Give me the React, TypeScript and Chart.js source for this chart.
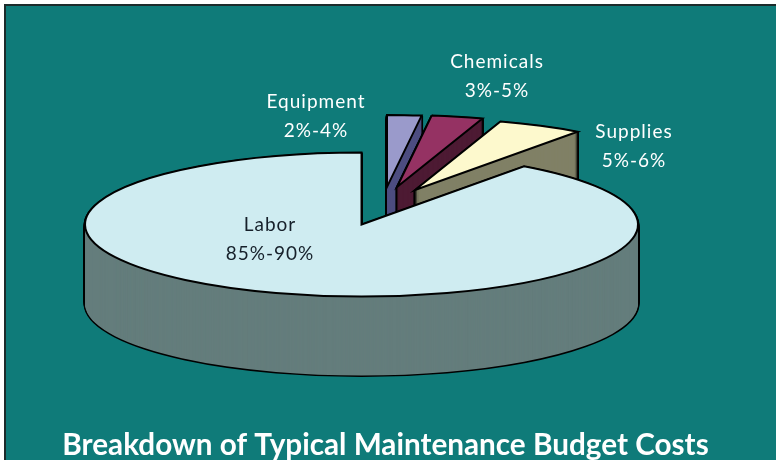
import React, { useEffect, useRef } from "react";
import { Chart, registerables } from "chart.js";

Chart.register(...registerables);

const categories = ["Equipment", "Chemicals", "Supplies", "Labor"];
const ranges = ["2%-4%", "3%-5%", "5%-6%", "85%-90%"];
const shares = [2, 3, 5, 90];
const titleText = "Breakdown of Typical Maintenance Budget Costs";

const topColors = ["#9a9acb", "#953263", "#fdf9cd", "#cfecf1"];
const wallColors = ["#4d4d80", "#4d1a33", "#808066", "#647d7c"];
const TEAL = "#0f7b79";

const PIE = { cx: 361.5, cy: 224.5, rx: 276.5, ry: 72, depth: 79 };
const explode = [[25.5, -37.5], [35.5, -37.5], [53.5, -34.5], [0, 0]];
const labelAt = [[316, 102], [497, 62], [634, 132], [270, 225]];
const LINE_GAP = 29;

const piePlugin = {
  id: "tiltedPie",
  beforeDraw(chart: any) {
    const { ctx, width, height } = chart;
    ctx.save();
    ctx.fillStyle = "#ffffff";
    ctx.fillRect(0, 0, width, height);
    ctx.fillStyle = TEAL;
    ctx.fillRect(4, 4, width - 4, height - 4);
    ctx.fillStyle = "#1c2b2b";
    ctx.fillRect(4, 4, width - 4, 2);
    ctx.fillRect(4, 4, 2, height - 4);
    ctx.restore();
  },
  beforeDatasetsDraw(chart: any) {
    const ctx = chart.ctx;
    const arcs = chart.getDatasetMeta(0).data;
    const nativeStroke = CanvasRenderingContext2D.prototype.stroke;
    // keep pen width uniform although the pie is squashed
    ctx.stroke = function () {
      ctx.save();
      ctx.setTransform(1, 0, 0, 1, 0, 0);
      nativeStroke.call(ctx);
      ctx.restore();
    };
    const paint = (arc: any, i: number, drop: number, over: any) => {
      const saved = arc.options;
      const k = arc.outerRadius;
      arc.options = Object.assign({}, saved, over);
      ctx.save();
      ctx.translate(PIE.cx + explode[i][0], PIE.cy + explode[i][1] + drop);
      ctx.scale(PIE.rx / k, PIE.ry / k);
      ctx.translate(-arc.x, -arc.y);
      arc.draw(ctx);
      ctx.restore();
      arc.options = saved;
    };
    arcs.forEach((arc: any, i: number) => {
      for (let d = PIE.depth; d > 0; d--) {
        paint(arc, i, d, { backgroundColor: "#000000", borderColor: "#000000", borderWidth: 3, borderJoinStyle: "round" });
      }
      for (let d = PIE.depth; d > 0; d--) {
        paint(arc, i, d, { backgroundColor: wallColors[i], borderWidth: 0 });
      }
      paint(arc, i, 0, { backgroundColor: topColors[i], borderColor: "#000000", borderWidth: 2, borderJoinStyle: "miter" });
    });
    delete ctx.stroke;
    return false;
  },
  afterDraw(chart: any) {
    const ctx = chart.ctx;
    ctx.save();
    ctx.font = "19px Lato";
    ctx.letterSpacing = "1px";
    ctx.textAlign = "center";
    ctx.textBaseline = "middle";
    categories.forEach((name, i) => {
      ctx.fillStyle = i === 3 ? "#16202a" : "#ffffff";
      ctx.fillText(name, labelAt[i][0], labelAt[i][1]);
      ctx.fillText(ranges[i], labelAt[i][0], labelAt[i][1] + LINE_GAP);
    });
    ctx.restore();
  },
};

export default function App() {
  const ref = useRef<HTMLCanvasElement>(null);
  useEffect(() => {
    document.body.style.margin = "0";
    const chart = new Chart(ref.current!, {
      type: "pie",
      data: {
        labels: categories,
        datasets: [{ data: shares, backgroundColor: topColors, borderWidth: 0 }],
      },
      options: {
        responsive: false,
        animation: false,
        layout: { padding: { left: 0, right: 5, top: 10, bottom: 0 } },
        plugins: {
          legend: { display: false },
          tooltip: { enabled: false },
          title: {
            display: true,
            text: titleText,
            position: "bottom",
            color: "#ffffff",
            font: { family: "Lato", size: 29.7, weight: "bold" },
            padding: { top: 3, bottom: -3 },
          },
        },
      },
      plugins: [piePlugin],
    } as any);
    return () => chart.destroy();
  }, []);
  return <canvas ref={ref} width={776} height={460} style={{ display: "block" }} />;
}
